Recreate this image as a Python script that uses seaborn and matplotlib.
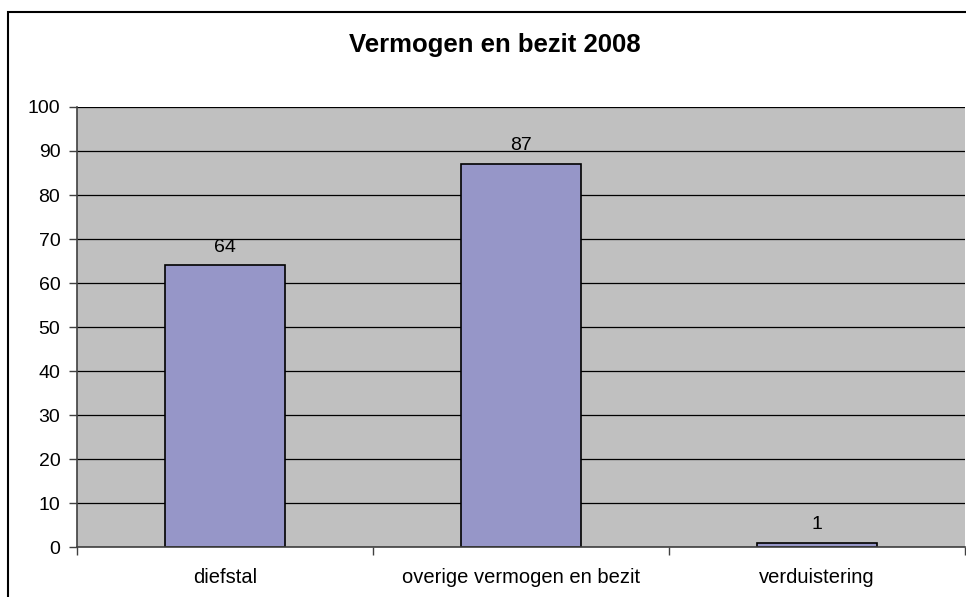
#! /usr/bin/env python3

import pandas as pd
import matplotlib.pyplot as plt
from matplotlib.patches import Rectangle
import seaborn as sns

sns.set_theme(style='white')
plt.rcParams['font.family'] = ['Liberation Sans', 'DejaVu Sans']
plt.rcParams['text.color'] = 'black'
plt.rcParams['xtick.color'] = 'black'
plt.rcParams['ytick.color'] = 'black'

# --- data
categories = ['diefstal', 'overige vermogen en bezit', 'verduistering']
values = [64, 87, 1]
title = 'Vermogen en bezit 2008'

df = pd.DataFrame({'categorie': categories, 'aantal': values})

fig = plt.figure(figsize=(9.66, 5.97), dpi=100)
ax = fig.add_axes([77/966, 1-547/597, 888/966, 440/597])
ax.set_facecolor('#C0C0C0')

sns.barplot(data=df, x='categorie', y='aantal', color='#9696C8',
            saturation=1, width=0.405, edgecolor='black', linewidth=1.2, ax=ax)

# --- data labels
for i, v in enumerate(values):
    ax.annotate(str(v), (i, v), xytext=(0, 7), textcoords='offset points',
                ha='center', va='bottom', fontsize=14, color='black')

ax.set_xlim(-0.5, 2.5)
ax.set_ylim(0, 100)
ax.set_yticks(range(0, 101, 10))
ax.yaxis.grid(True, color='black', linewidth=0.9)
ax.set_axisbelow(True)

ax.set_xticks(range(len(categories)))
ax.set_xticklabels(categories)
ax.set_xticks([-0.5, 0.5, 1.5, 2.5], minor=True)
ax.tick_params(axis='x', which='major', length=0, pad=15, labelsize=14.5)
ax.tick_params(axis='x', which='minor', length=6, width=1, color='#404040',
               direction='out', bottom=True)
ax.tick_params(axis='y', length=6, width=1, color='#404040', direction='out',
               left=True, labelsize=14, pad=6)
ax.set_xlabel('')
ax.set_ylabel('')

for s in ['top', 'right']:
    ax.spines[s].set_visible(False)
ax.spines['left'].set_color('#404040')
ax.spines['bottom'].set_color('#404040')
ax.spines['left'].set_linewidth(1.2)
ax.spines['bottom'].set_linewidth(1.2)

fig.text(495/966, 1-45/597, title, ha='center', va='center',
         fontsize=18.5, fontweight='bold')

# --- outer chart frame (cut off at right and bottom)
fig.patches.append(Rectangle((8/966, -0.5), 2, 1.5 - 12/597,
                             transform=fig.transFigure, fill=False,
                             edgecolor='black', linewidth=1.5, clip_on=False))

fig.savefig('out.png', dpi=100, facecolor='white')
